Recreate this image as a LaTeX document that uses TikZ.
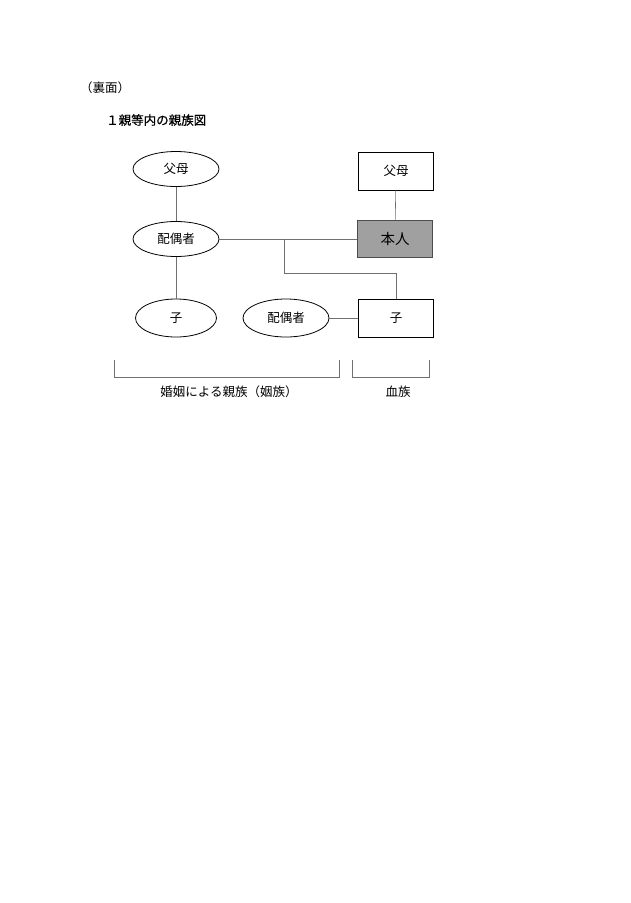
\documentclass[tikz,border=0pt]{standalone}
\usepackage{fontspec}
\setmainfont{Noto Sans CJK JP}
\newfontfamily\cjk{Noto Sans CJK JP}
\newfontfamily\cjkmed[FakeBold=0.8]{Noto Sans CJK JP}
\usetikzlibrary{shapes.geometric}
\definecolor{linegray}{HTML}{707070}
\definecolor{selfgray}{HTML}{A0A0A0}
\begin{document}
\begin{tikzpicture}[x=1pt,y=-1pt,
  lbl/.style={font=\cjk\fontsize{12.5}{12.5}\selectfont, inner sep=0pt},
  oval/.style={draw=black, line width=0.8pt, ellipse, minimum width=86pt, minimum height=35pt, inner sep=0pt, font=\cjk\fontsize{12.5}{12.5}\selectfont},
  box/.style={draw=black, line width=0.8pt, rectangle, minimum width=75pt, minimum height=38pt, inner sep=0pt, font=\cjk\fontsize{12.5}{12.5}\selectfont},
  selfbox/.style={draw=black!70, fill=selfgray, line width=1.6pt, rectangle, minimum width=75pt, minimum height=37pt, inner sep=0pt, font=\cjk\fontsize{14.5}{14.5}\selectfont},
  conn/.style={draw=linegray, line width=0.6pt},
  brk/.style={draw=linegray, line width=0.6pt}]
\useasboundingbox (0,0) rectangle (630,903);
\node[lbl, anchor=west, font=\cjk\fontsize{12.5}{12.5}\selectfont] (ura) at (80,88) {（裏面）};
\node[lbl, anchor=west, font=\cjkmed\fontsize{12.5}{12.5}\selectfont] (title) at (106,120) {１親等内の親族図};
\node[oval] (pL) at (176,169) {父母};
\node[box] (pR) at (396,171) {父母};
\node[oval] (sp) at (176,239) {配偶者};
\node[selfbox] (me) at (395,239) {本人};
\node[oval, minimum width=81pt, minimum height=38pt] (cL) at (176,318) {子};
\node[oval, minimum height=38pt] (cs) at (286,318) {配偶者};
\node[box] (cR) at (396,318) {子};
\coordinate (j1) at (284,239);
\coordinate (j2) at (284,273);
\coordinate (j3) at (396,273);
\draw[conn] (pL) -- (sp);
\draw[conn] (pR) -- (me);
\draw[conn] (sp) -- (me);
\draw[conn] (sp) -- (cL);
\draw[conn] (j1) -- (j2) -- (j3) -- (cR);
\draw[conn] (cs) -- (cR);
\coordinate (b1a) at (114,360);
\coordinate (b1b) at (114,377);
\coordinate (b1c) at (339,377);
\coordinate (b1d) at (339,360);
\draw[brk] (b1a) -- (b1b) -- (b1c) -- (b1d);
\coordinate (b2a) at (352,360);
\coordinate (b2b) at (352,377);
\coordinate (b2c) at (429,377);
\coordinate (b2d) at (429,360);
\draw[brk] (b2a) -- (b2b) -- (b2c) -- (b2d);
\node[lbl] (lk1) at (229,392) {婚姻による親族（姻族）};
\node[lbl] (lk2) at (398,392) {血族};
\end{tikzpicture}
\end{document}
